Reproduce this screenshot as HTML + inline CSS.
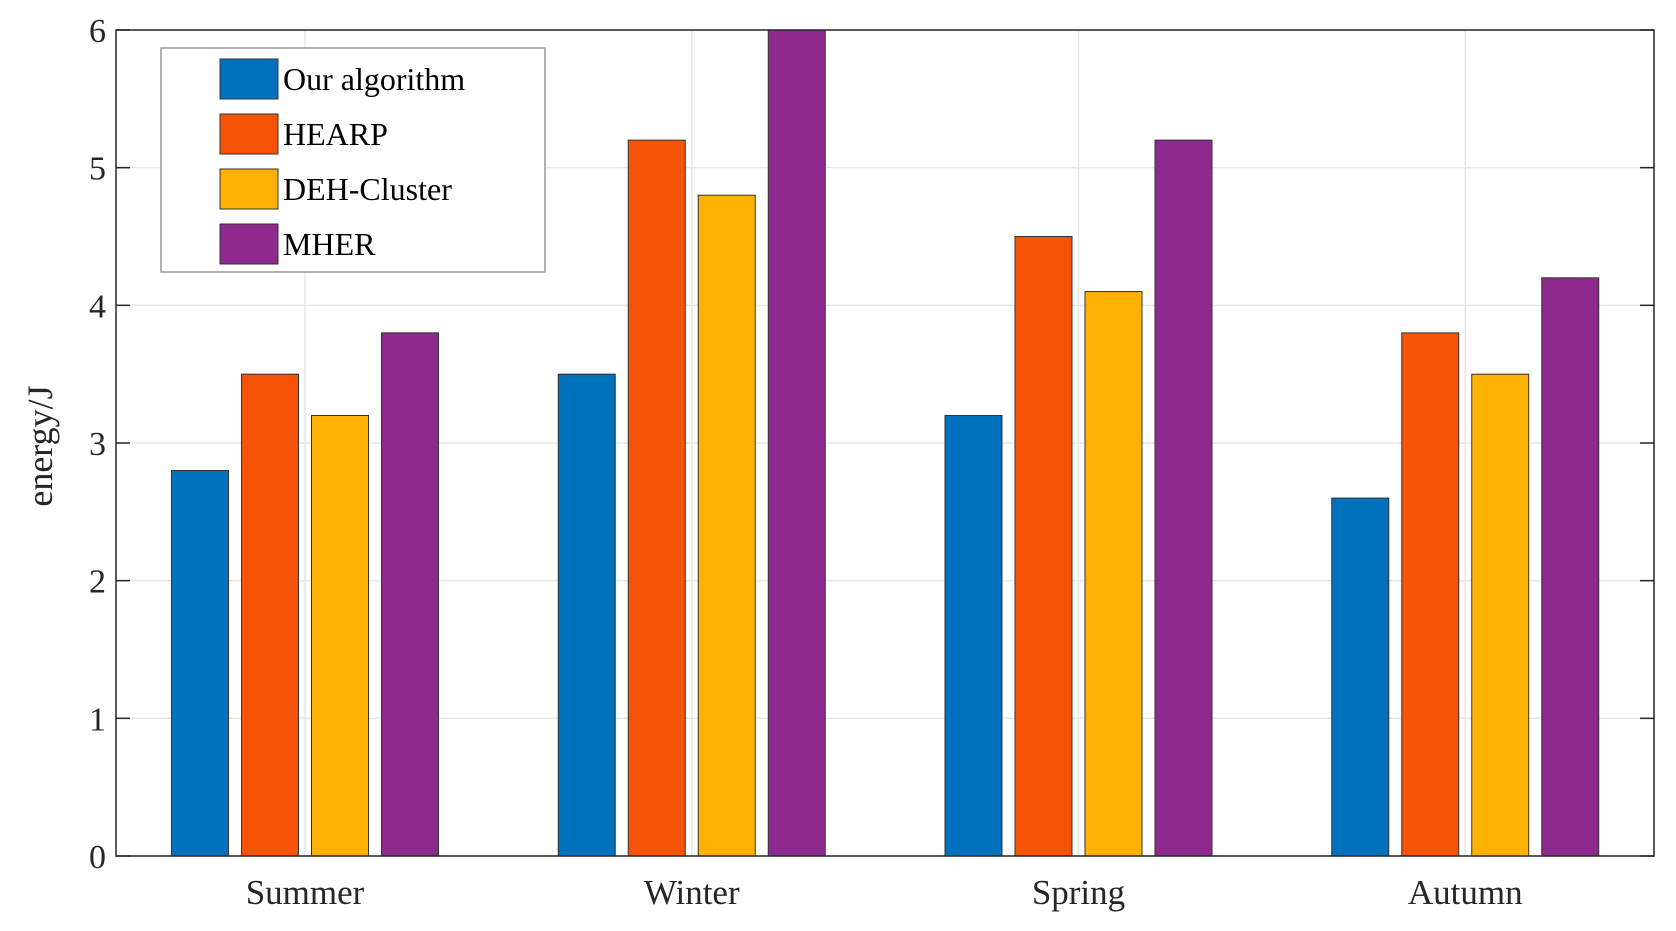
<!DOCTYPE html>
<html><head><meta charset="utf-8"><style>
body{margin:0;background:#fff}
svg{display:block;font-family:"Liberation Serif",serif}
</style></head><body>
<svg id="chart" width="1676" height="931" viewBox="0 0 1676 931">
<g id="grid"></g>
<g id="bars"></g>
<rect x="116" y="30" width="1538" height="826" fill="none" stroke="#262626" stroke-width="1.5"/>
<g id="axes"></g>
<text transform="translate(52,446) rotate(-90)" text-anchor="middle" font-size="36" fill="#262626">energy/J</text>
<g>
<rect x="161" y="48" width="384" height="224" fill="#fff" stroke="#999" stroke-width="1.5"/>
<g id="legend-items"></g>
</g>
</svg>
<script>
const categories = ["Summer","Winter","Spring","Autumn"];
const seriesNames = ["Our algorithm","HEARP","DEH-Cluster","MHER"];
const ourAlgorithm = [2.8,3.5,3.2,2.6];
const hearp = [3.5,5.2,4.5,3.8];
const dehCluster = [3.2,4.8,4.1,3.5];
const mher = [3.8,6.0,5.2,4.2];
const yTicks = [0,1,2,3,4,5,6];
const colors = ["#0072BD","#F75307","#FFB000","#8E2A8E"];
const series = [ourAlgorithm,hearp,dehCluster,mher];
const NS="http://www.w3.org/2000/svg";
const L=116,R=1654,T=30,B=856;
const y=v=>B-(v/6)*(B-T);
const x=i=>305+i*388.3*0.996;
function mk(tag,attrs,parent,text){const e=document.createElementNS(NS,tag);for(const k in attrs)e.setAttribute(k,attrs[k]);if(text!==undefined)e.textContent=text;parent.appendChild(e);return e;}
const grid=document.getElementById('grid'),bars=document.getElementById('bars'),axes=document.getElementById('axes'),leg=document.getElementById('legend-items');
yTicks.forEach(t=>{
  const g=mk('line',{x1:L,x2:R,y1:y(t),y2:y(t),stroke:'#e6e6e6','stroke-width':1.5},grid);
  
  
  const tk=mk('line',{x1:L,x2:L+14,y1:y(t),y2:y(t),stroke:'#262626','stroke-width':1.5},axes);
  
  
  const tk2=mk('line',{x1:R-14,x2:R,y1:y(t),y2:y(t),stroke:'#262626','stroke-width':1.5},axes);
  
  
  const lb=mk('text',{x:L-10,y:y(t)+12,'text-anchor':'end','font-size':34,fill:'#262626'},axes,String(t));
  
  
});
categories.forEach((c,i)=>{
  const g=mk('line',{x1:x(i),x2:x(i),y1:T,y2:B,stroke:'#e6e6e6','stroke-width':1.5},grid);
  
  
  const lb=mk('text',{x:x(i),y:904,'text-anchor':'middle','font-size':35,fill:'#262626'},axes,c);
  
  
  series.forEach((s,j)=>{
    const cx=x(i)+(j-1.5)*70;
    const r=mk('rect',{x:cx-28.5,y:y(s[i]),width:57,height:B-y(s[i]),fill:colors[j],stroke:'#333','stroke-width':1},bars);
    
    
  });
});
seriesNames.forEach((n,j)=>{
  const yy=59+j*55;
  const s=mk('rect',{x:220,y:yy,width:58,height:40,fill:colors[j],stroke:'#333','stroke-width':1},leg);
  
  
  const t=mk('text',{x:283,y:yy+31,'font-size':32,fill:'#000'},leg,n);
  
  
});
</script>
</body></html>
